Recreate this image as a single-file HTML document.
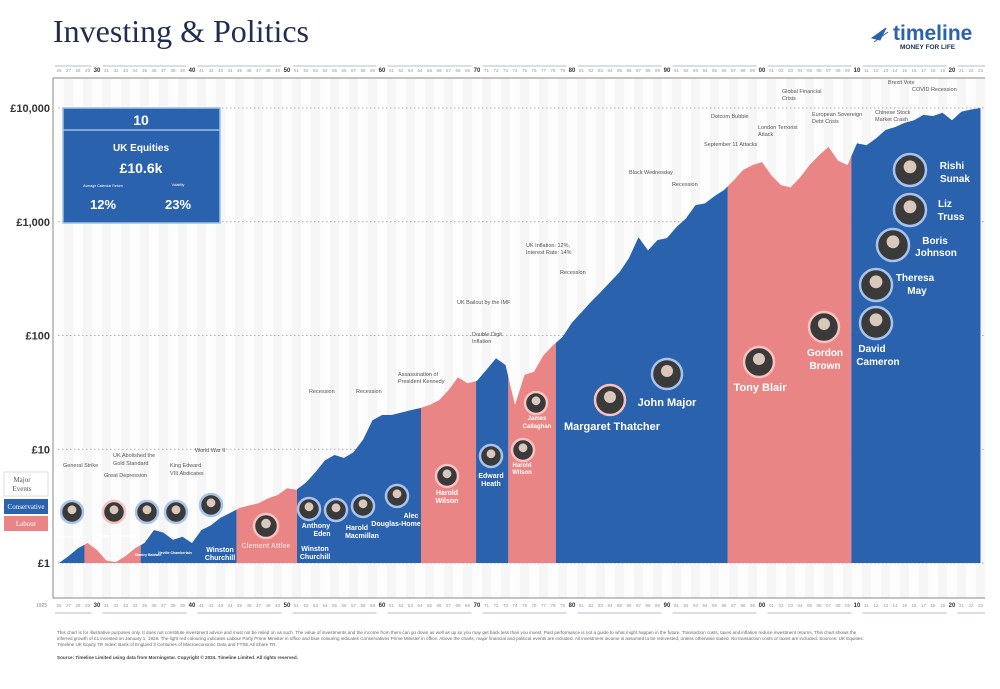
<!DOCTYPE html>
<html><head><meta charset="utf-8"><style>
body{margin:0;background:#fff;width:1000px;height:689px;overflow:hidden;font-family:"Liberation Sans",sans-serif}
svg{display:block}
.ev{font-size:5.5px;fill:#555}
.pm{font-weight:bold;text-anchor:middle}
</style></head><body>
<svg id="c" width="1000" height="689" viewBox="0 0 1000 689">
<text x="53" y="42" font-family="Liberation Serif,serif" font-size="32" fill="#1f2d52">Investing &amp; Politics</text>
<g>
<path d="M872 38 L886 28 L880 40 Z M874 42 L888 32" fill="#2b62ae" stroke="#2b62ae" stroke-width="1"/>
<text x="893" y="40" font-size="21" font-weight="bold" fill="#2b62ae">timeline</text>
<text x="900" y="49" font-size="6.5" font-weight="bold" fill="#1f2d52">MONEY FOR LIFE</text>
</g>
<g id="stripes"></g>
<g id="grid"></g>
<g id="area"></g>
<line x1="53" y1="78" x2="53" y2="598" stroke="#888" stroke-width="1"/>
<line x1="53" y1="78" x2="985" y2="78" stroke="#888" stroke-width="1"/>
<line x1="53" y1="598" x2="985" y2="598" stroke="#888" stroke-width="1"/>
<g id="yticks"></g>
<g id="xticks"></g>
<g>
<rect x="63" y="108" width="157" height="115" fill="#2b62ae" stroke="#9cc0ea" stroke-width="1.5"/>
<line x1="63" y1="130" x2="220" y2="130" stroke="#9cc0ea" stroke-width="1.5"/>
<text x="141" y="125" fill="#fff" font-size="14" font-weight="bold" text-anchor="middle">10</text>
<text x="141" y="151" fill="#fff" font-size="10" font-weight="bold" text-anchor="middle">UK Equities</text>
<text x="141" y="173" fill="#fff" font-size="14" font-weight="bold" text-anchor="middle">£10.6k</text>
<text x="103" y="187" fill="#fff" font-size="3.5" text-anchor="middle">Average Calendar Return</text>
<text x="178" y="186" fill="#fff" font-size="3.5" text-anchor="middle">Volatility</text>
<text x="103" y="209" fill="#fff" font-size="13" font-weight="bold" text-anchor="middle">12%</text>
<text x="178" y="209" fill="#fff" font-size="13" font-weight="bold" text-anchor="middle">23%</text>
</g>
<g>
<rect x="4" y="472" width="44" height="24" fill="#fff" stroke="#ddd"/>
<text x="22" y="482" font-family="Liberation Serif,serif" font-size="7" fill="#555" text-anchor="middle">Major</text>
<text x="22" y="491" font-family="Liberation Serif,serif" font-size="7" fill="#555" text-anchor="middle">Events</text>
<rect x="4" y="499" width="44" height="15" fill="#2b62ae"/>
<text x="26" y="509" font-family="Liberation Serif,serif" font-size="7" fill="#fff" text-anchor="middle">Conservative</text>
<rect x="4" y="516" width="44" height="15" fill="#ea8585"/>
<text x="26" y="526" font-family="Liberation Serif,serif" font-size="7" fill="#fff" text-anchor="middle">Labour</text>
</g>
<g id="events"></g>
<g id="pms"></g>
<g font-size="4.6" fill="#666">
<text x="57" y="634">This chart is for illustrative purposes only. It does not constitute investment advice and must not be relied on as such. The value of investments and the income from them can go down as well as up so you may get back less than you invest. Past performance is not a guide to what might happen in the future. Transaction costs, taxes and inflation reduce investment returns. This chart shows the</text>
<text x="57" y="640">inferred growth of £1 invested on January 1, 1926. The light red colouring indicates Labour Party Prime Minister in office and blue colouring indicates Conservatives Prime Minister in office. Above the charts, major financial and political events are included. All investment income is assumed to be reinvested, unless otherwise stated. No transaction costs or taxes are included. Sources: UK Equities:</text>
<text x="57" y="646">Timeline UK Equity TR Index: Bank of England 3 Centuries of Macroeconomic Data and FTSE All Share TR.</text>
<text x="57" y="659" font-weight="bold" fill="#444">Source: Timeline Limited using data from Morningstar. Copyright © 2024. Timeline Limited. All rights reserved.</text>
</g>
</svg>
<script>
const years=[1926,1927,1928,1929,1930,1931,1932,1933,1934,1935,1936,1937,1938,1939,1940,1941,1942,1943,1944,1945,1946,1947,1948,1949,1950,1951,1952,1953,1954,1955,1956,1957,1958,1959,1960,1961,1962,1963,1964,1965,1966,1967,1968,1969,1970,1971,1972,1973,1974,1975,1976,1977,1978,1979,1980,1981,1982,1983,1984,1985,1986,1987,1988,1989,1990,1991,1992,1993,1994,1995,1996,1997,1998,1999,2000,2001,2002,2003,2004,2005,2006,2007,2008,2009,2010,2011,2012,2013,2014,2015,2016,2017,2018,2019,2020,2021,2022,2023];
const values=[1.0,1.15,1.35,1.5,1.3,1.05,1.02,1.15,1.35,1.5,1.95,1.85,1.6,1.7,1.5,1.95,2.15,2.5,2.75,3.05,3.2,3.35,3.7,3.95,4.55,4.4,5.1,6.3,8.0,8.9,8.4,9.4,12.1,18,20,20,21,22,23,24.5,27,33,43,38,40,50,63,55,24.5,45,48,67,82,97,130,160,198,240,295,360,480,730,560,690,720,900,1070,1400,1450,1680,1900,2300,2850,3150,3350,2550,2100,2000,2450,3150,3850,4550,3450,3150,4900,4700,5400,6400,6800,7400,7800,8700,8500,9100,7800,9300,9700,10000];
const govStart=[1925.5,1928.7,1934.6,1944.7,1951.05,1964.1,1969.9,1973.3,1978.3,1996.4,2009.4];
const govEnd=[1928.7,1934.6,1944.7,1951.05,1964.1,1969.9,1973.3,1978.3,1996.4,2009.4,2024];
const govParty=["con","lab","con","lab","con","lab","con","lab","con","lab","con"];
const yTickVals=[1,10,100,1000,10000];
const yTickLabels=["£1","£10","£100","£1,000","£10,000"];
const NS="http://www.w3.org/2000/svg";
const X=y=>97+(y-1930)*9.5;
const Y=v=>563-113.75*Math.log10(v);
function mk(t,a,p){const e=document.createElementNS(NS,t);for(const k in a)e.setAttribute(k,a[k]);p.appendChild(e);return e;}
const st=document.getElementById('stripes');
for(let y=1926;y<=2023;y++){const r=mk('rect',{x:X(y)-4.75,y:79,width:9.5,height:519,fill:y%2?'#f6f6f6':'#fdfdfd'},st);

}
const gr=document.getElementById('grid'),yt=document.getElementById('yticks');
yTickVals.forEach((v,i)=>{const l=mk('line',{x1:58,x2:985,y1:Y(v),y2:Y(v),stroke:'#999','stroke-dasharray':'1.5,2.5','stroke-width':0.8},gr);


const t=mk('text',{x:50,y:Y(v)+4,'font-size':11,'font-weight':'bold','text-anchor':'end',fill:'#333'},yt);t.textContent=yTickLabels[i];

});
const ar=document.getElementById('area');
let d='M'+X(years[0])+',563';years.forEach((y,i)=>{d+='L'+X(y).toFixed(1)+','+Y(values[i]).toFixed(1);});d+='L'+X(years[years.length-1])+',563Z';
const defs=mk('defs',{},ar);
govStart.forEach((s,i)=>{const cp=mk('clipPath',{id:'cp'+i},defs);mk('rect',{x:X(s),y:0,width:X(govEnd[i])-X(s),height:600},cp);
const p=mk('path',{d:d,fill:govParty[i]=='con'?'#2b62ae':'#ea8585','clip-path':'url(#cp'+i+')'},ar);

});
const xt=document.getElementById('xticks');
for(let y=1926;y<=2023;y++){const lab=String(y%100).padStart(2,'0');const dec=y%10==0;
[72,607].forEach(yy=>{const t=mk('text',{x:X(y),y:yy,'font-size':dec?6:4.5,'font-weight':dec?'bold':'normal','text-anchor':'middle',fill:dec?'#333':'#999'},xt);t.textContent=lab;

});}
const t25=mk('text',{x:36,y:607,'font-size':5,fill:'#888'},xt);t25.textContent='1925';
for(let dcd=1920;dcd<2030;dcd+=10){const a=Math.max(X(dcd+1)-4,55),b=Math.min(X(dcd+9)+4,985);
[66,613].forEach(yy=>{const l=mk('line',{x1:a,x2:b,y1:yy,y2:yy,stroke:'#9ab',"stroke-width":0.7},xt);

});}
const evs=[["General Strike",63,467],["UK Abolished the",113,457],["Gold Standard",113,465],["Great Depression",104,477],["King Edward",170,467],["VIII Abdicates",170,475],["World War II",195,452],["Recession",309,393],["Recession",356,393],["Assassination of",398,376],["President Kennedy",398,383],["Double Digit",472,336],["Inflation",472,343],["UK Bailout by the IMF",457,304],["Recession",560,274],["UK Inflation: 12%,",526,247],["Interest Rate: 14%",526,254],["Black Wednesday",629,174],["Recession",672,186],["September 11 Attacks",704,146],["Dotcom Bubble",711,118],["London Terrorist",758,129],["Attack",758,136],["Global Financial",782,93],["Crisis",782,100],["European Sovereign",812,116],["Debt Crisis",812,123],["Chinese Stock",875,114],["Market Crash",875,121],["COVID Recession",912,91],["Brexit Vote",888,84]];
const eg=document.getElementById('events');
evs.forEach(e=>{const t=mk('text',{x:e[1],y:e[2],class:'ev'},eg);t.textContent=e[0];

});
const pms=[[72,512,11,"#2b62ae"],[114,512,11,"#ea8585"],[147,512,11,"#2b62ae"],[176,512,11,"#2b62ae"],[211,505,11,"#2b62ae"],[266,526,12,"#ea8585"],[309,509,11,"#2b62ae"],[336,510,11,"#2b62ae"],[363,506,11,"#2b62ae"],[397,496,11,"#2b62ae"],[447,476,11,"#ea8585"],[491,456,11,"#2b62ae"],[523,450,11,"#ea8585"],[536,403,11,"#ea8585"],[610,400,15,"#ea8585"],[667,374,15,"#2b62ae"],[759,362,15,"#ea8585"],[824,327,15,"#ea8585"],[876,323,16,"#2b62ae"],[876,285,16,"#2b62ae"],[893,245,16,"#2b62ae"],[910,210,16,"#2b62ae"],[910,170,16,"#2b62ae"]];
const pg=document.getElementById('pms');
pms.forEach(p=>{const c=mk('circle',{cx:p[0],cy:p[1],r:p[2],fill:'#3a3a3a',stroke:p[3]=='#2b62ae'?'#a9c4ec':'#f6c2c2','stroke-width':2.5},pg);


mk('circle',{cx:p[0],cy:p[1]-p[2]*0.2,r:p[2]*0.4,fill:'#d9c8bb'},pg);});
const names=[["Stanley Baldwin",72,538,4,"#fff"],["Ramsay MacDonald",114,537,4,"#fff"],["Stanley Baldwin",148,556,3.5,"#fff"],["Neville Chamberlain",175,554,3.5,"#fff"],["Winston",220,552,7,"#fff"],["Churchill",220,560,7,"#fff"],["Clement Attlee",266,548,7,"#f9d0d0"],["Anthony",316,528,7,"#fff"],["Eden",322,536,7,"#fff"],["Winston",315,551,7,"#fff"],["Churchill",315,559,7,"#fff"],["Harold",357,530,7,"#fff"],["Macmillan",362,538,7,"#fff"],["Alec",411,518,7,"#fff"],["Douglas-Home",396,526,7,"#fff"],["Harold",447,495,7,"#fff"],["Wilson",447,503,7,"#fff"],["Edward",491,478,7,"#fff"],["Heath",491,486,7,"#fff"],["Harold",522,467,6,"#fff"],["Wilson",522,474,6,"#fff"],["James",537,420,6,"#fff"],["Callaghan",537,428,6,"#fff"],["Margaret Thatcher",612,430,11,"#fff"],["John Major",667,406,11,"#fff"],["Tony Blair",760,391,11,"#fff"],["Gordon",825,356,10,"#fff"],["Brown",825,369,10,"#fff"],["David",872,352,10,"#fff"],["Cameron",878,365,10,"#fff"],["Theresa",915,281,10,"#fff"],["May",917,294,10,"#fff"],["Boris",935,244,10,"#fff"],["Johnson",936,256,10,"#fff"],["Liz",945,207,10,"#fff"],["Truss",951,220,10,"#fff"],["Rishi",952,169,10,"#fff"],["Sunak",955,182,10,"#fff"]];
names.forEach(n=>{const t=mk('text',{x:n[1],y:n[2],'font-size':n[3],fill:n[4],class:'pm'},pg);t.textContent=n[0];

});
</script>
</body></html>
